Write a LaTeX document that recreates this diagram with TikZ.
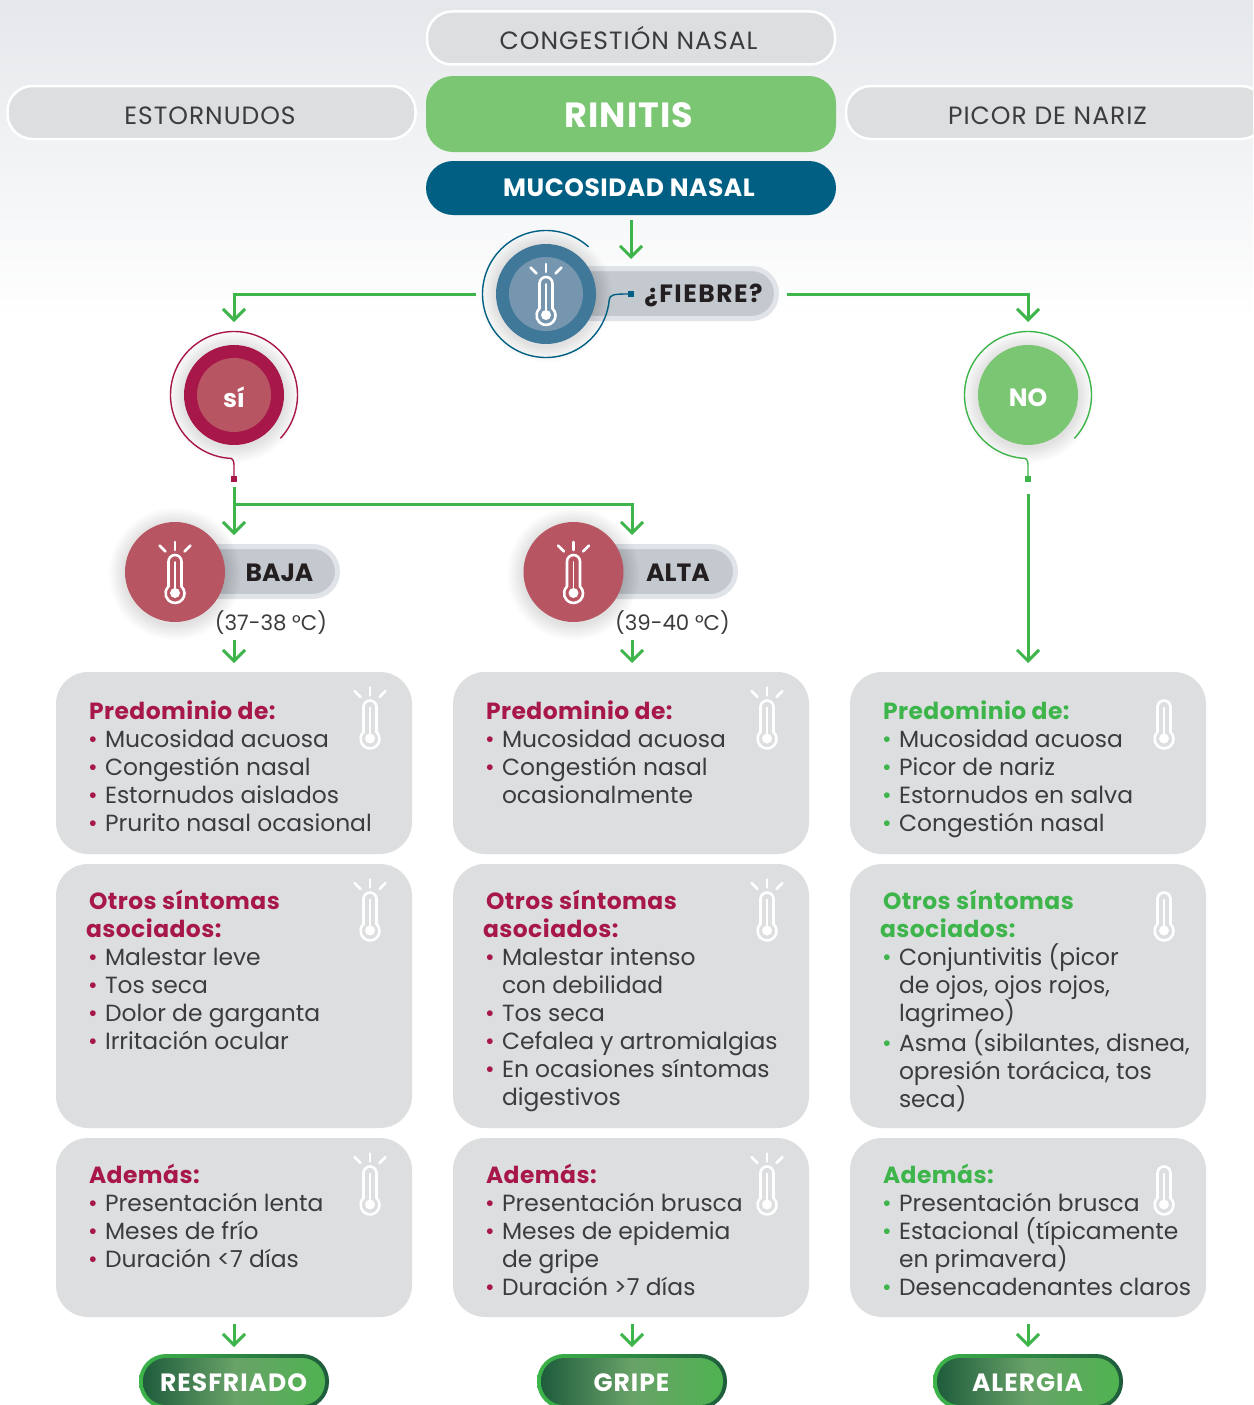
\documentclass[tikz,border=0pt]{standalone}
\usepackage{fontspec}
\setmainfont{Poppins}
\usetikzlibrary{arrows.meta,shapes.geometric,calc}
\definecolor{rd}{HTML}{A8174A}
\definecolor{rdl}{HTML}{B85562}
\definecolor{gn}{HTML}{3DB54A}
\definecolor{gnl}{HTML}{7BC673}
\definecolor{bl}{HTML}{005F83}
\definecolor{blm}{HTML}{3F7898}
\definecolor{bll}{HTML}{7696B0}
\definecolor{cardc}{HTML}{DCDEE0}
\definecolor{pillc}{HTML}{C3C9CE}
\definecolor{rimc}{HTML}{E0E3E7}
\definecolor{ink}{HTML}{3C3C3E}
\definecolor{blk}{HTML}{231F20}
\definecolor{gd}{HTML}{1E5C3C}
\definecolor{gm}{HTML}{68A268}
\definecolor{gb}{HTML}{4FB350}
\colorlet{acc}{rd}
\newcommand{\hd}[1]{\hspace*{3pt}{\bfseries\addfontfeatures{LetterSpace=2}\color{acc}#1}}
\newcommand{\hdb}[1]{{\bfseries\addfontfeatures{LetterSpace=2}\color{acc}#1}}
\newcommand{\li}[1]{\hspace*{2pt}\makebox[17pt][l]{\color{acc}•}#1}
\newcommand{\co}[1]{\hspace*{19pt}#1}
\newcommand{\softshadow}[3]{\foreach \k in {1,...,10}{\fill[black,opacity=.011] (#1,#2-2) circle[radius=#3+\k*1.6];}}
\newcommand{\thermo}[3][1]{%
 \begin{scope}[shift={(#2,#3)},white,line width=2.6pt,line cap=round]
  \draw (-6.5,-14.5) -- (-6.5,10.5) arc[start angle=180,end angle=0,radius=6.5] -- (6.5,-14.5)
     arc[start angle=47,end angle=-227,radius=9.5];
  \draw[line width=1.6pt] (0,10) -- (0,-16);
  \fill (0,-21) circle[radius=5];
  \ifnum#1=1
   \draw (0,22) -- (0,30);
   \draw (-15.5,26.5) -- (-9.5,20.5);
   \draw (15.5,26.5) -- (9.5,20.5);
  \fi
 \end{scope}}
\tikzset{
 x=1pt,y=1pt,
 flow/.style={gn,line width=3pt,-{Straight Barb[length=11pt,width=22pt,line width=3pt]}},
 toppill/.style={draw=white,line width=2.5pt,fill=cardc,rounded corners=25pt,minimum height=53pt,minimum width=408pt,outer sep=0,inner sep=0,font=\fontsize{25}{28}\selectfont\addfontfeatures{LetterSpace=4},text=ink},
 solidpill/.style={fill=#1,rounded corners=27pt,minimum width=410pt,outer sep=0,inner sep=0,text=white,font=\bfseries\fontsize{25}{28}\selectfont\addfontfeatures{LetterSpace=3}},
 greypill/.style={draw=rimc,line width=5pt,fill=pillc,rounded corners=25pt,minimum height=50pt,outer sep=0,inner sep=0},
 disc/.style={circle,inner sep=0,outer sep=0,minimum size=#1},
 cardbox/.style={fill=cardc,rounded corners=32pt,minimum width=356pt,outer sep=0,inner sep=0},
 txt/.style={anchor=north west,inner sep=0,outer sep=0,align=left,text=ink,font=\fontsize{23.4}{28}\selectfont},
 lab/.style={inner sep=0,outer sep=0,text=blk,font=\bfseries\fontsize{25}{28}\selectfont},
 sqr/.style={inner sep=0,outer sep=0,minimum size=6pt,fill=#1},
 ring/.style={line width=1.4pt,draw=#1},
 res/.style={minimum width=182pt,minimum height=47pt,rounded corners=23pt,outer sep=0,inner sep=0,text=white,font=\bfseries\fontsize{25}{28}\selectfont\addfontfeatures{LetterSpace=4},left color=gd,right color=gb,middle color=gm},
 resrim/.style={minimum width=190pt,minimum height=55pt,rounded corners=27pt,outer sep=0,inner sep=0,left color=gn,right color=gd},
}
\begin{document}
\begin{tikzpicture}
\useasboundingbox (0,0) rectangle (1253,-1405);
\clip (0,0) rectangle (1253,-1405);
\fill[white] (0,0) rectangle (1253,-1405);
\shade[top color=rimc!85!white,bottom color=white] (0,0) rectangle (1253,-320);

% top pills
\node[toppill] (cong) at (631,-38) {};
\node[toppill,draw=none,fill=none] (congt) at (628.5,-38.5) {CONGESTIÓN NASAL};
\node[toppill] (esto) at (211.5,-112.5) {};
\node[toppill,draw=none,fill=none] (estot) at (210,-115.5) {ESTORNUDOS};
\node[toppill,minimum width=420pt] (pico) at (1056,-112.5) {};
\node[toppill,draw=none,fill=none] (picot) at (1047.5,-115.5) {PICOR DE NARIZ};
\node[solidpill=gnl,minimum height=76pt] (rini) at (631,-114) {};
\node[inner sep=0,text=white,font=\bfseries\fontsize{35}{36}\selectfont\addfontfeatures{LetterSpace=3}] (rinit) at (629,-115.5) {RINITIS};
\node[solidpill=bl,minimum height=54pt] (muco) at (631,-188) {};
\node[inner sep=0,text=white,font=\bfseries\fontsize{25}{28}\selectfont\addfontfeatures{LetterSpace=2}] (mucot) at (629,-188) {MUCOSIDAD NASAL};

% fiebre
\node[greypill,minimum width=230pt] (fpill) at (661.5,-293.5) {};
\node[lab,font=\bfseries\fontsize{25}{28}\selectfont\addfontfeatures{LetterSpace=6}] (ftext) at (703.5,-295) {¿FIEBRE?};
\softshadow{546}{-294}{50}
\node[disc=100pt,fill=blm] (fdisc) at (546,-294) {};
\node[disc=74pt,fill=bll] (fdin) at (546,-294) {};
\thermo{546}{-294}
\node[sqr=bl] (fsq) at (631,-294) {};
\coordinate (fring) at ($(546,-294)+(48:63.5)$);
\draw[ring=bl] (fring) arc[start angle=48,end angle=355,radius=63.5] .. controls (610.5,-295) and (612,-294) .. (fsq.west);

% flow from mucosidad and fiebre
\coordinate (tipF) at (631,-259);
\draw[flow,shorten <=5pt] (muco.south) -- (tipF);
\coordinate (fL) at (476,-294);
\coordinate (fR) at (787,-294);
\coordinate (tipS) at (234,-322);
\coordinate (tipN) at (1028,-322);
\draw[flow] (fL) -| (tipS);
\draw[flow] (fR) -| (tipN);

% SI
\softshadow{234}{-395}{50}
\node[disc=100pt,fill=rd] (si) at (234,-395) {};
\node[disc=74pt,fill=rdl] (siin) at (234,-395) {};
\node[inner sep=0,text=white,font=\bfseries\fontsize{25}{28}\selectfont] (sit) at (234,-397) {sí};
\node[sqr=rd] (sisq) at (234,-479) {};
\coordinate (siring) at ($(234,-395)+(-43:63.5)$);
\draw[ring=rd] (siring) arc[start angle=-43,end angle=265,radius=63.5] .. controls (232,-457.5) and (234,-460) .. (234,-465) -- (sisq.north);

% NO
\softshadow{1028}{-395}{50}
\node[disc=100pt,fill=gnl] (no) at (1028,-395) {};
\node[inner sep=0,text=white,font=\bfseries\fontsize{25}{28}\selectfont] (not) at (1028,-397.5) {NO};
\node[sqr=gn] (nosq) at (1028,-479) {};
\coordinate (noring) at ($(1028,-395)+(-43:63.5)$);
\draw[ring=gn] (noring) arc[start angle=-43,end angle=265,radius=63.5] .. controls (1026,-457.5) and (1028,-460) .. (1028,-465) -- (nosq.north);

% flows below SI / NO
\coordinate (siS) at (234,-487);
\coordinate (tipB) at (234,-535);
\coordinate (tipA) at (632,-535);
\coordinate (br) at (234,-504);
\draw[flow] (siS) -- (tipB);
\draw[flow] (br) -| (tipA);
\coordinate (noS) at (1028,-494);
\coordinate (tipC3) at (1028,-663);
\draw[flow] (noS) -- (tipC3);

% BAJA ALTA
\node[greypill,minimum width=165pt] (bpill) at (255,-571.5) {};
\node[lab] (btxt) at (279.5,-572.5) {BAJA};
\softshadow{175}{-572}{50}
\node[disc=100pt,fill=rdl] (bdisc) at (175,-572) {};
\thermo{175}{-572}
\node[inner sep=0,text=ink,font=\fontsize{21.3}{24}\selectfont] (brng) at (271,-622.5) {(37-38 °C)};
\node[greypill,minimum width=165pt] (apill) at (653,-571.5) {};
\node[lab] (atxt) at (678,-572.5) {ALTA};
\softshadow{573.5}{-572}{50}
\node[disc=100pt,fill=rdl] (adisc) at (573.5,-572) {};
\thermo{573.5}{-572}
\node[inner sep=0,text=ink,font=\fontsize{21.3}{24}\selectfont] (arng) at (672.5,-622.5) {(39-40 °C)};
\coordinate (bS) at (234,-640);
\coordinate (aS) at (632,-640);
\coordinate (tipC1) at (234,-663);
\coordinate (tipC2) at (632,-663);
\draw[flow] (bS) -- (tipC1);
\draw[flow] (aS) -- (tipC2);

% cards
\foreach \nm/\cx in {a/234,b/631,c/1028}{
 \node[cardbox,minimum height=182pt] (\nm1) at (\cx,-763) {};
 \node[cardbox,minimum height=264pt] (\nm2) at (\cx,-996) {};
 \node[cardbox,minimum height=179pt] (\nm3) at (\cx,-1227.5) {};
}
\foreach \cx in {370,767}{
 \thermo{\cx}{-717.5}
 \thermo{\cx}{-909.5}
 \thermo{\cx}{-1183.5}
}
\thermo[0]{1164}{-717.5}
\thermo[0]{1164}{-909.5}
\thermo[0]{1164}{-1183.5}

\begin{scope}
\colorlet{acc}{rd}
\node[txt] (ta1) at (86,-700.5) {\hd{Predominio de:}\\\li{Mucosidad acuosa}\\\li{Congestión nasal}\\\li{Estornudos aislados}\\\li{Prurito nasal ocasional}};
\node[txt] (ta2) at (86,-890.5) {\hd{Otros síntomas}\\\hdb{asociados:}\\\li{Malestar leve}\\\li{Tos seca}\\\li{Dolor de garganta}\\\li{Irritación ocular}};
\node[txt] (ta3) at (86,-1164) {\hd{Además:}\\\li{Presentación lenta}\\\li{Meses de frío}\\\li{Duración <7 días}};
\node[txt] (tb1) at (483,-700.5) {\hd{Predominio de:}\\\li{Mucosidad acuosa}\\\li{Congestión nasal}\\\co{ocasionalmente}};
\node[txt] (tb2) at (483,-890.5) {\hd{Otros síntomas}\\\hdb{asociados:}\\\li{Malestar intenso}\\\co{con debilidad}\\\li{Tos seca}\\\li{Cefalea y artromialgias}\\\li{En ocasiones síntomas}\\\co{digestivos}};
\node[txt] (tb3) at (483,-1164) {\hd{Además:}\\\li{Presentación brusca}\\\li{Meses de epidemia}\\\co{de gripe}\\\li{Duración >7 días}};
\end{scope}
\begin{scope}
\colorlet{acc}{gn}
\node[txt] (tc1) at (880,-700.5) {\hd{Predominio de:}\\\li{Mucosidad acuosa}\\\li{Picor de nariz}\\\li{Estornudos en salva}\\\li{Congestión nasal}};
\node[txt] (tc2) at (880,-890.5) {\hd{Otros síntomas}\\\hdb{asociados:}\\\li{Conjuntivitis (picor}\\\co{de ojos, ojos rojos,}\\\co{lagrimeo)}\\\li{Asma (sibilantes, disnea,}\\\co{opresión torácica, tos}\\\co{seca)}};
\node[txt] (tc3) at (880,-1164) {\hd{Además:}\\\li{Presentación brusca}\\\li{Estacional (típicamente}\\\co{en primavera)}\\\li{Desencadenantes claros}};
\end{scope}

% results
\foreach \nm/\cx/\lb in {res1/234/RESFRIADO,res2/632/GRIPE,res3/1028/ALERGIA}{
 \node[resrim] (\nm r) at (\cx,-1381.5) {};
 \node[res] (\nm) at (\cx,-1381.5) {};
 \node[inner sep=0,text=white,font=\bfseries\fontsize{25}{28}\selectfont\addfontfeatures{LetterSpace=4}] (\nm t) at (\cx-0.5,-1382.5) {\lb};
}
\coordinate (t1) at (234,-1347);
\coordinate (t2) at (632,-1347);
\coordinate (t3) at (1028,-1347);
\draw[flow,shorten <=7pt] (a3.south) -- (t1);
\draw[flow,shorten <=7pt] (b3.south -| t2) -- (t2);
\draw[flow,shorten <=7pt] (c3.south) -- (t3);
\end{tikzpicture}
\end{document}
